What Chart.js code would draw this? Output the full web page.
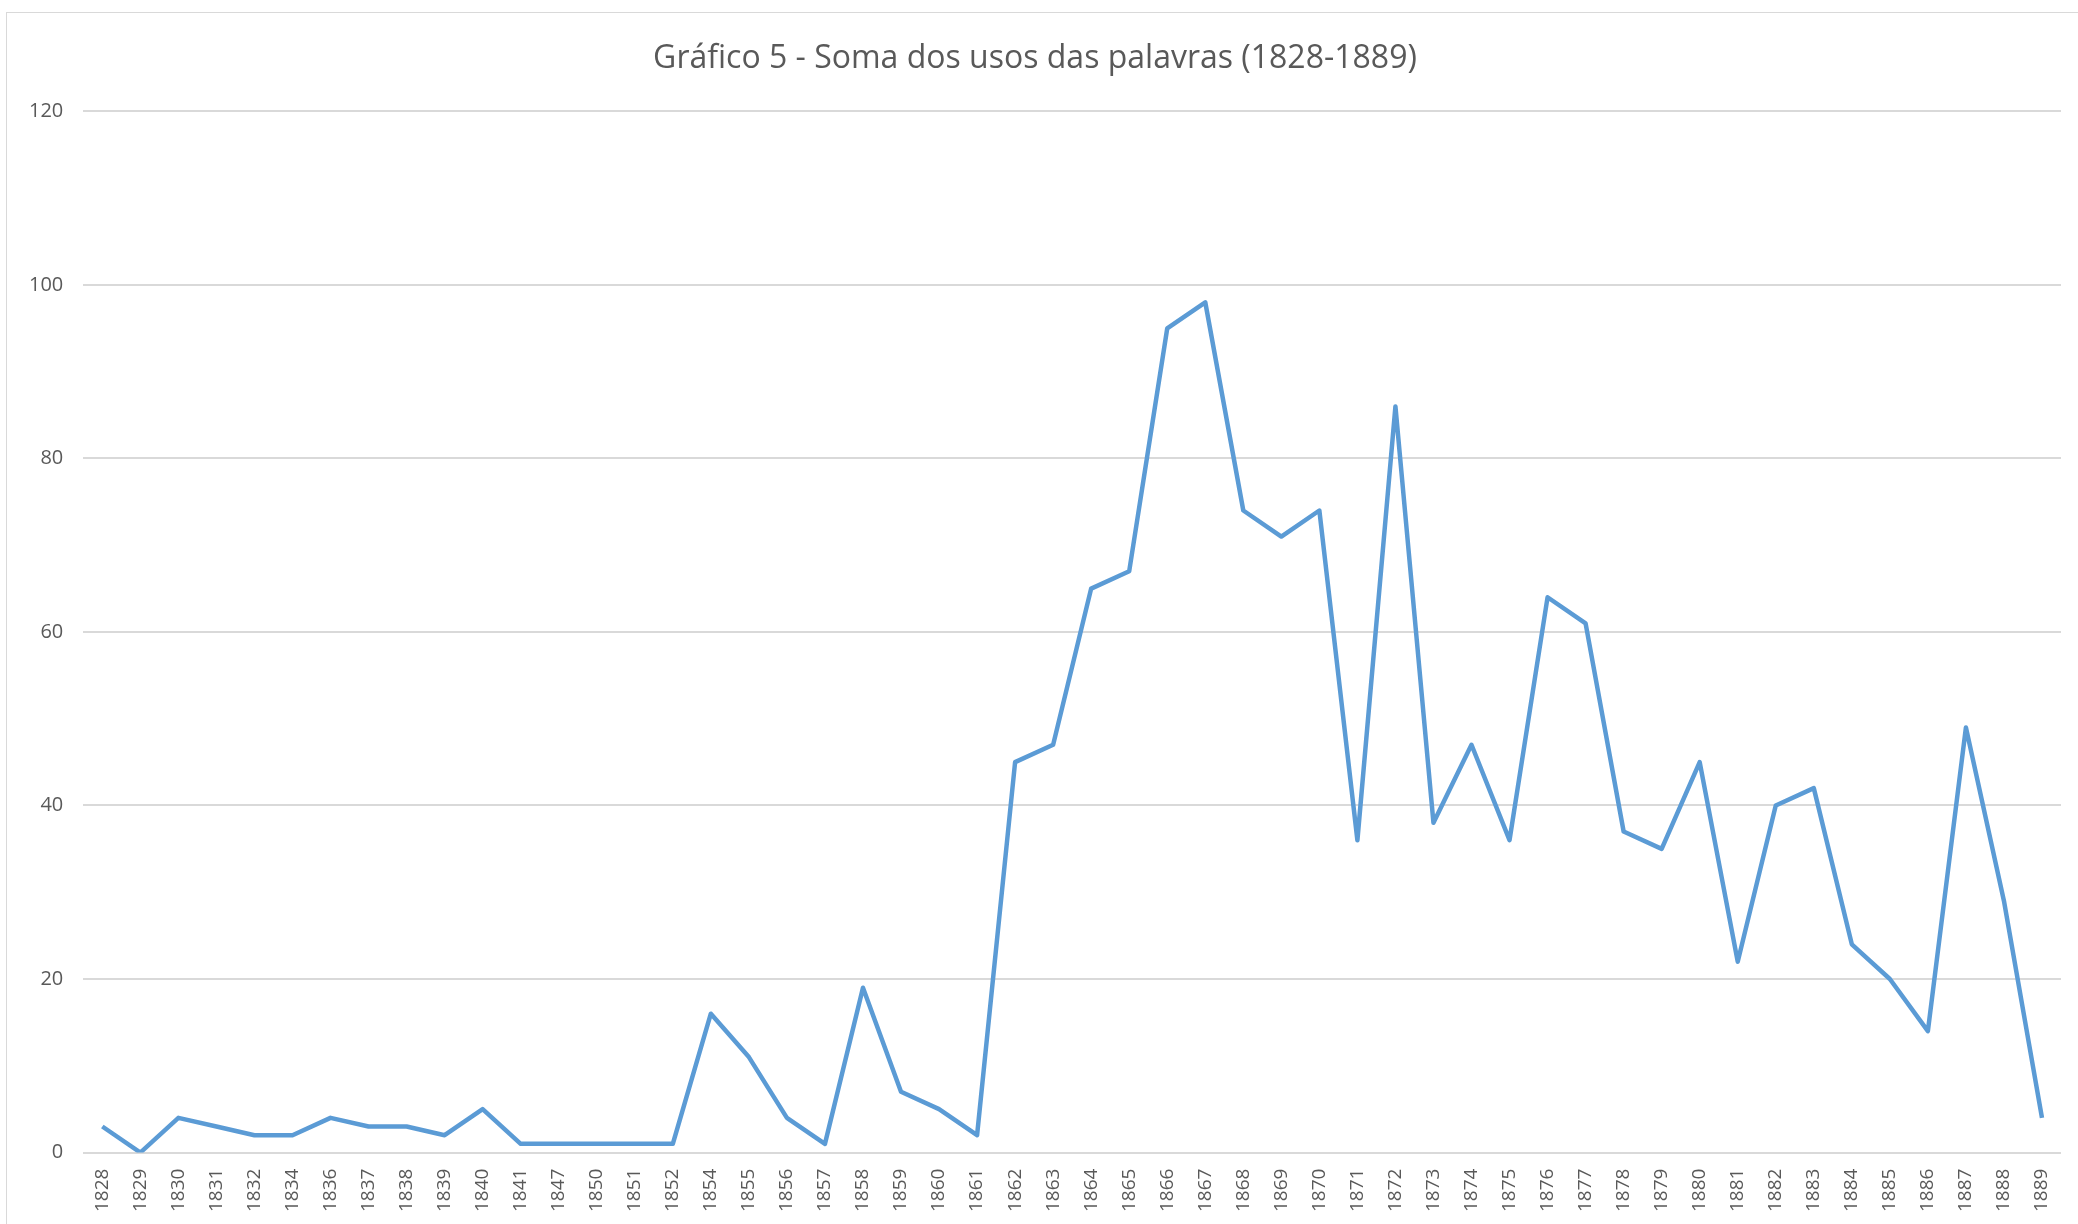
<!DOCTYPE html>
<html>
<head>
<meta charset="utf-8">
<script src="https://cdn.jsdelivr.net/npm/chart.js@4"></script>
<style>
    html, body { margin: 0; padding: 0; background: #ffffff; }
    #wrap {
        position: absolute;
        left: 6px;
        top: 12px;
        width: 2080px;
        height: 1220px;
        border-left: 1px solid #d9d9d9;
        border-top: 1px solid #d9d9d9;
    }
    #holder { position: absolute; left: 0; top: 0; width: 2078px; height: 1224px; }
</style>
</head>
<body>
<div id="wrap"></div>
<div id="holder"><canvas id="chart"></canvas></div>
<script>
// Soma dos usos das palavras por ano
const years = [
    '1828', '1829', '1830', '1831', '1832', '1834', '1836', '1837', '1838', '1839',
    '1840', '1841', '1847', '1850', '1851', '1852', '1854', '1855', '1856', '1857',
    '1858', '1859', '1860', '1861', '1862', '1863', '1864', '1865', '1866', '1867',
    '1868', '1869', '1870', '1871', '1872', '1873', '1874', '1875', '1876', '1877',
    '1878', '1879', '1880', '1881', '1882', '1883', '1884', '1885', '1886', '1887',
    '1888', '1889'
];
const usos = [
    3, 0, 4, 3, 2, 2, 4, 3, 3, 2,
    5, 1, 1, 1, 1, 1, 16, 11, 4, 1,
    19, 7, 5, 2, 45, 47, 65, 67, 95, 98,
    74, 71, 74, 36, 86, 38, 47, 36, 64, 61,
    37, 35, 45, 22, 40, 42, 24, 20, 14, 49,
    29, 4
];
const yTicks = [0, 20, 40, 60, 80, 100, 120];

const textColor = '#595959';
const gridColor = '#d9d9d9';

const canvas = document.getElementById('chart');
const chart = new Chart(canvas, {
    type: 'line',
    data: {
        labels: years,
        datasets: [{
            label: 'Soma',
            data: usos,
            borderColor: '#5b9bd5',
            backgroundColor: '#5b9bd5',
            borderWidth: 4.5,
            borderJoinStyle: 'round',
            pointRadius: 0,
            tension: 0,
            fill: false
        }]
    },
    options: {
        responsive: true,
        maintainAspectRatio: false,
        animation: false,
        layout: {
            padding: { left: 9, right: 17, top: 40, bottom: 4 }
        },
        plugins: {
            legend: { display: false },
            tooltip: { enabled: false },
            title: {
                display: true,
                text: 'Gráfico 5 - Soma dos usos das palavras (1828-1889)',
                color: textColor,
                font: { family: 'Open Sans', size: 32, weight: 'normal' },
                padding: { top: 0, bottom: 33 }
            }
        },
        scales: {
            x: {
                offset: true,
                grid: { display: false },
                border: { display: false },
                ticks: {
                    color: textColor,
                    font: { family: 'Open Sans', size: 19 },
                    minRotation: 90,
                    maxRotation: 90,
                    autoSkip: false,
                    padding: 8
                }
            },
            y: {
                min: 0,
                max: 120,
                afterBuildTicks: (axis) => {
                    axis.ticks = yTicks.map(v => ({ value: v }));
                },
                grid: { color: gridColor, lineWidth: 2, drawTicks: false },
                border: { display: false },
                ticks: {
                    color: textColor,
                    font: { family: 'Open Sans', size: 20 },
                    padding: 20
                }
            }
        }
    }
});
</script>
</body>
</html>
